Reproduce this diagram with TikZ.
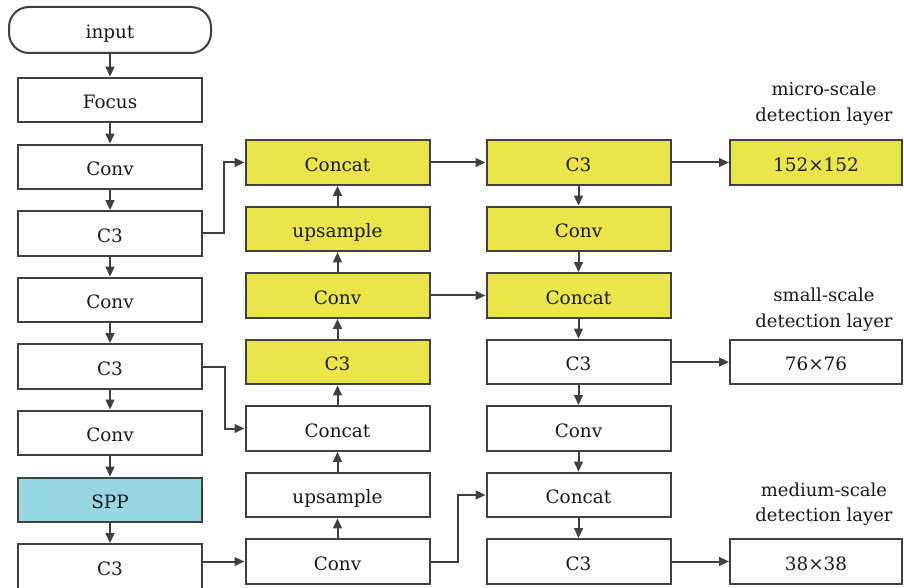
\documentclass[tikz,border=0pt]{standalone}
\usepackage{fontspec}
\setmainfont{DejaVu Serif}
\usetikzlibrary{arrows.meta}
\definecolor{lc}{HTML}{404040}
\definecolor{ylw}{HTML}{E8E64A}
\definecolor{cyn}{HTML}{97D7E0}
\begin{document}
\begin{tikzpicture}[x=0.75pt,y=-0.75pt,
  box/.style={draw=lc, line width=1.5pt, minimum width=138pt, minimum height=33.5pt, inner sep=0pt, text height=13pt, text depth=0pt, font=\fontsize{13.8}{16}\selectfont, text=black!90},
  yb/.style={box, fill=ylw},
  wb/.style={box, fill=white},
  cb/.style={box, fill=cyn},
  ob/.style={minimum width=129pt},
  arr/.style={draw=lc, line width=1.5pt, -{Triangle[length=7.5pt,width=6.5pt]}},
  lbl/.style={align=center, font=\fontsize{13.5}{19}\selectfont, text=black!90}]
\useasboundingbox (0,0) rectangle (904,588);
% left column
\node[wb, rounded corners=15pt, minimum width=151.5pt, minimum height=34.5pt] (in) at (110,30) {input};
\node[wb] (l1) at (110,100) {Focus};
\node[wb] (l2) at (110,167) {Conv};
\node[wb] (l3) at (110,233.5) {C3};
\node[wb] (l4) at (110,300) {Conv};
\node[wb] (l5) at (110,366.5) {C3};
\node[wb] (l6) at (110,433) {Conv};
\node[cb] (l7) at (110,500) {SPP};
\node[wb] (l8) at (110,566.5) {C3};
% middle column
\node[yb] (m1) at (337.5,162.5) {Concat};
\node[yb] (m2) at (337.5,229) {upsample};
\node[yb] (m3) at (337.5,295.5) {Conv};
\node[yb] (m4) at (337.5,362) {C3};
\node[wb] (m5) at (337.5,428.5) {Concat};
\node[wb] (m6) at (337.5,495) {upsample};
\node[wb] (m7) at (337.5,561.5) {Conv};
% right column
\node[yb] (r1) at (578.5,162.5) {C3};
\node[yb] (r2) at (578.5,229) {Conv};
\node[yb] (r3) at (578.5,295.5) {Concat};
\node[wb] (r4) at (578.5,362) {C3};
\node[wb] (r5) at (578.5,428.5) {Conv};
\node[wb] (r6) at (578.5,495) {Concat};
\node[wb] (r7) at (578.5,561.5) {C3};
% outputs
\node[yb, ob] (o1) at (816,162.5) {152×152};
\node[wb, ob] (o2) at (816,362) {76×76};
\node[wb, ob] (o3) at (816,561.5) {38×38};
\node[lbl] (t1) at (824,103.5) {micro-scale\\detection layer};
\node[lbl] (t2) at (824,309.5) {small-scale\\detection layer};
\node[lbl] (t3) at (824,504) {medium-scale\\detection layer};
% connectors
\foreach \a/\b in {in/l1,l1/l2,l2/l3,l3/l4,l4/l5,l5/l6,l6/l7,l7/l8,
  m7/m6,m6/m5,m5/m4,m4/m3,m3/m2,m2/m1,
  r1/r2,r2/r3,r3/r4,r4/r5,r5/r6,r6/r7,
  m1/r1,m3/r3,r1/o1,r4/o2,r7/o3}
  \draw[arr] (\a) -- (\b);
\draw[arr] (l8.east |- m7) -- (m7);
\draw[arr] (l3.east) -- ++(21,0) |- (m1.west);
\draw[arr] (l5.east) -- ++(22,0) |- (m5.west);
\draw[arr] (m7.east) -- ++(27,0) |- (r6.west);
\end{tikzpicture}
\end{document}
